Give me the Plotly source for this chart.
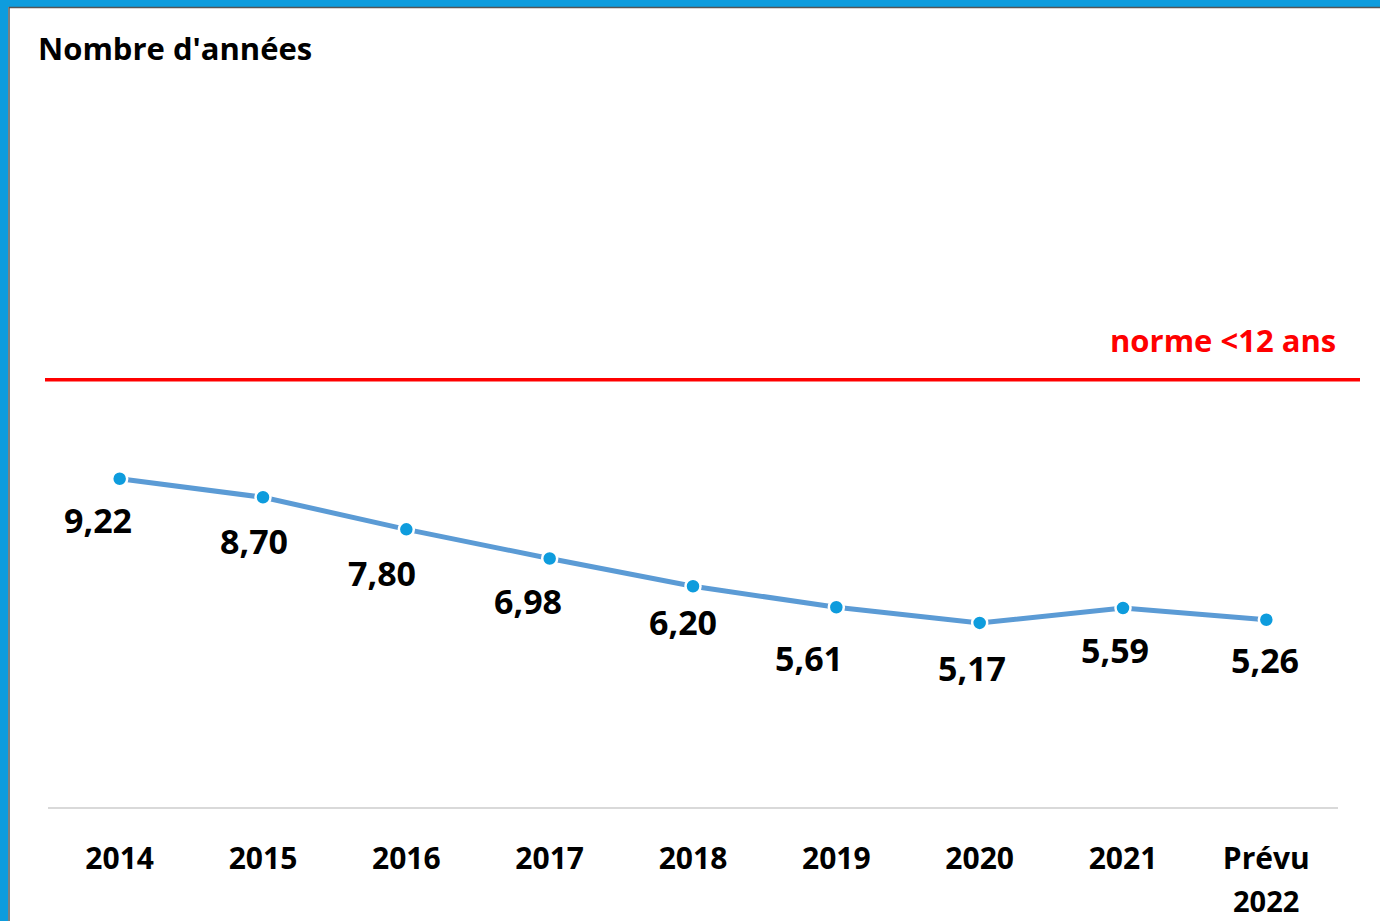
import plotly.graph_objects as go

categories = ["2014", "2015", "2016", "2017", "2018", "2019", "2020", "2021", "Prévu 2022"]
tick_text = ["2014", "2015", "2016", "2017", "2018", "2019", "2020", "2021", "Prévu"]
tick_second_line = "2022"
values = [9.22, 8.70, 7.80, 6.98, 6.20, 5.61, 5.17, 5.59, 5.26]
value_labels = ["9,22", "8,70", "7,80", "6,98", "6,20", "5,61", "5,17", "5,59", "5,26"]
norme_value = 12
norme_label = "norme <12 ans"
title_text = "Nombre d'années"

# label offsets (pixels) relative to each point, layout only
label_dx = [-22, -9, -24, -22, -10, -27, -8, -8, -1]
label_dy = [41, 44, 44, 42, 36, 51, 45, 42, 40]

W, H = 1380, 921
ML, MR, MT, MB = 48, 42, 95, 114
PW, PH = W - ML - MR, H - MT - MB

def px_x(p):
    return (p - ML) / PW

def px_y(p):
    return (H - MB - p) / PH

FONT = "Open Sans"

fig = go.Figure()
fig.add_trace(go.Scatter(
    x=categories, y=values, mode="lines+markers",
    line=dict(color="#5B9BD5", width=5),
    marker=dict(color="#0E9CDD", size=15, line=dict(color="white", width=2.5)),
    hoverinfo="skip", showlegend=False,
))

annotations = []
for i, (v, t, dx, dy) in enumerate(zip(values, value_labels, label_dx, label_dy)):
    annotations.append(dict(
        x=i, y=v, xref="x", yref="y", text=t, showarrow=False,
        xshift=dx, yshift=-dy, xanchor="center", yanchor="middle",
        font=dict(family=FONT, size=34, color="black", weight="bold"),
    ))

annotations.append(dict(
    x=1, y=norme_value, xref="paper", yref="y", text=norme_label, showarrow=False,
    xanchor="right", yanchor="middle", yshift=40,
    font=dict(family=FONT, size=31, color="#FF0000", weight="bold"),
))
annotations.append(dict(
    x=px_x(36), y=px_y(48), xref="paper", yref="paper", text=title_text, showarrow=False,
    xanchor="left", yanchor="middle",
    font=dict(family=FONT, size=31, color="black", weight="bold"),
))
annotations.append(dict(
    x=len(categories) - 1, y=px_y(900), xref="x", yref="paper", text=tick_second_line,
    showarrow=False, xanchor="center", yanchor="middle",
    font=dict(family=FONT, size=29, color="black", weight="bold"),
))

shapes = [
    # red norm line
    dict(type="line", xref="paper", yref="y", x0=px_x(45), x1=px_x(1360),
         y0=norme_value, y1=norme_value, line=dict(color="#FF0000", width=3.5)),
    # blue frame top and left
    dict(type="rect", xref="paper", yref="paper", x0=px_x(0), x1=px_x(W), y0=px_y(0), y1=px_y(7),
         fillcolor="#0E9CDD", line=dict(width=0), layer="above"),
    dict(type="rect", xref="paper", yref="paper", x0=px_x(0), x1=px_x(8), y0=px_y(0), y1=px_y(H),
         fillcolor="#0E9CDD", line=dict(width=0), layer="above"),
    dict(type="line", xref="paper", yref="paper", x0=px_x(9), x1=px_x(W), y0=px_y(7.5), y1=px_y(7.5),
         line=dict(color="#555555", width=1.5), layer="above"),
    dict(type="line", xref="paper", yref="paper", x0=px_x(9), x1=px_x(9), y0=px_y(7), y1=px_y(H),
         line=dict(color="#555555", width=1.5), layer="above"),
]

fig.update_layout(
    width=W, height=H,
    margin=dict(l=ML, r=MR, t=MT, b=MB, autoexpand=False),
    paper_bgcolor="white", plot_bgcolor="white",
    annotations=annotations, shapes=shapes,
    xaxis=dict(
        type="category", range=[-0.5, len(categories) - 0.5], automargin=False,
        tickmode="array", tickvals=categories, ticktext=tick_text,
        showgrid=False, zeroline=False,
        showline=True, linecolor="#D9D9D9", linewidth=2,
        ticks="outside", ticklen=24, tickcolor="rgba(0,0,0,0)",
        tickfont=dict(family=FONT, size=30, color="black", weight="bold"),
    ),
    yaxis=dict(range=[0, 20], visible=False, fixedrange=True, automargin=False),
)

fig.write_html(
    "out.html",
    config={"displayModeBar": False},
    post_script="document.body.style.margin='0';document.body.style.overflow='hidden';",
)
